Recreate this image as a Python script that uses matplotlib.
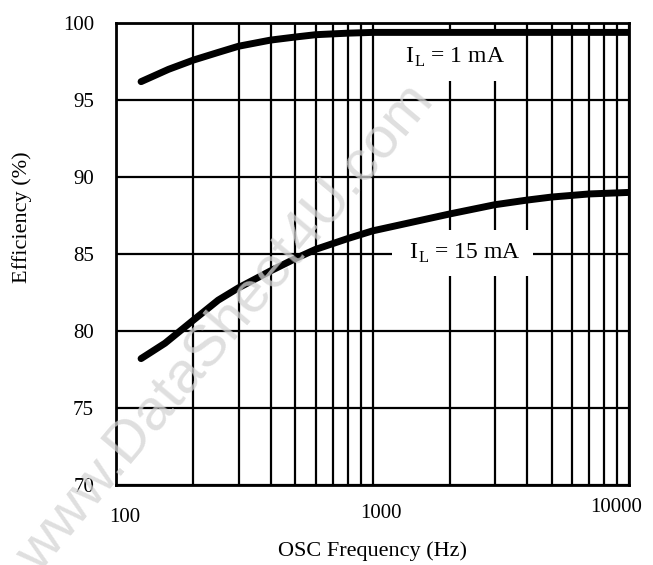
import matplotlib
matplotlib.use("Agg")
import matplotlib.pyplot as plt
import matplotlib.transforms as mtransforms
from matplotlib.ticker import LogLocator, NullFormatter

plt.rcParams['font.family'] = ['Liberation Serif', 'DejaVu Serif']
plt.rcParams['mathtext.fontset'] = 'custom'
plt.rcParams['mathtext.rm'] = 'Liberation Serif'

# efficiency vs oscillator frequency
freq_1ma = [125, 160, 200, 250, 300, 400, 500, 600, 800, 1000, 2000, 5000, 10000]
eff_1ma = [96.2, 97.0, 97.6, 98.1, 98.5, 98.9, 99.1, 99.25, 99.35, 99.4, 99.4, 99.4, 99.4]

freq_15ma = [125, 155, 200, 250, 300, 400, 500, 600, 800, 1000, 2000, 3000, 4000, 5000, 7000, 10000]
eff_15ma = [78.2, 79.2, 80.7, 82.0, 82.8, 83.9, 84.7, 85.3, 86.0, 86.5, 87.6, 88.2, 88.5, 88.7, 88.9, 89.0]

x_ticks = [100, 1000, 10000]
y_ticks = [70, 75, 80, 85, 90, 95, 100]

fig = plt.figure(figsize=(6.53, 5.65), dpi=100)
ax = fig.add_axes([0.178, 0.142, 0.785, 0.817])

ax.set_xscale('log')
ax.set_xlim(100, 10000)
ax.set_ylim(70, 100)

ax.plot(freq_1ma, eff_1ma, color='black', lw=5, solid_capstyle='round',
        solid_joinstyle='round', zorder=4)
ax.plot(freq_15ma, eff_15ma, color='black', lw=5, solid_capstyle='round',
        solid_joinstyle='round', zorder=4)

# grid: every 1-9 step per decade, plus every 5 %
ax.set_xticks(x_ticks)
ax.set_xticklabels([str(v) for v in x_ticks])
ax.xaxis.set_minor_locator(LogLocator(base=10, subs=range(2, 10)))
ax.xaxis.set_minor_formatter(NullFormatter())
ax.set_yticks(y_ticks)
ax.grid(True, which='both', color='black', lw=1.6)
ax.set_axisbelow(True)
ax.tick_params(which='both', length=0, labelsize=15)
ax.tick_params(axis='x', pad=14)
ax.tick_params(axis='y', pad=16)
for sp in ax.spines.values():
    sp.set_linewidth(2)

# the scanned labels sit a bit off their gridlines
shifts = [(0.09, -0.04), (0.08, 0.0), (-0.13, 0.06)]
for lab, (dx, dy) in zip(ax.get_xticklabels(), shifts):
    lab.set_transform(lab.get_transform() + mtransforms.ScaledTranslation(dx, dy, fig.dpi_scale_trans))

ax.set_xlabel('OSC Frequency (Hz)', fontsize=16, labelpad=10)
ax.set_ylabel('Efficiency (%)', fontsize=16)
ax.yaxis.set_label_coords(-0.165, 0.58)

box = dict(boxstyle='square,pad=0.5', fc='white', ec='none')
ax.text(0.662, 0.926, r' I$_\mathregular{L}$ = 1 mA  ', transform=ax.transAxes,
        fontsize=17, ha='center', va='center', bbox=box, zorder=3)
ax.text(0.675, 0.502, r' I$_\mathregular{L}$ = 15 mA ', transform=ax.transAxes,
        fontsize=17, ha='center', va='center', bbox=box, zorder=3)

# watermark from the scan
fig.text(0.345, 0.42, 'www.DataSheet4U.com', fontsize=42, family='Liberation Sans',
         color='#d4d4d4', alpha=0.75, rotation=50, ha='center', va='center', zorder=10)

fig.savefig('out.png', dpi=100)
